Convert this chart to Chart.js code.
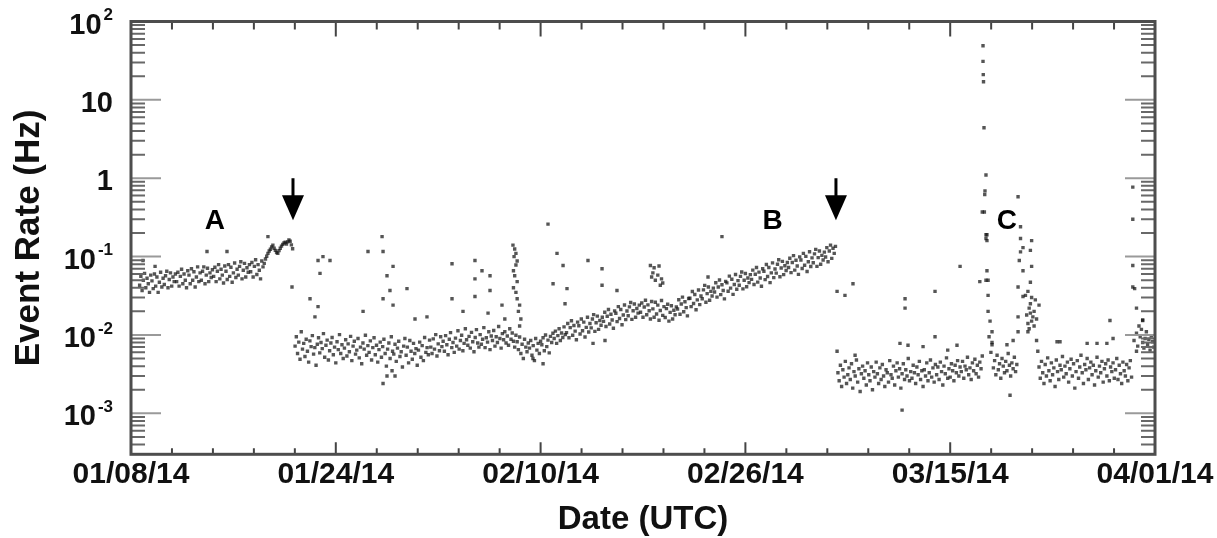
<!DOCTYPE html>
<html>
<head>
<meta charset="utf-8">
<script src="https://cdn.jsdelivr.net/npm/chart.js@4.4.1/dist/chart.umd.min.js"></script>
<style>
	html, body { margin: 0; padding: 0; background: #fff; }
	canvas { display: block; }
</style>
</head>
<body>
<canvas id="rate" width="1217" height="538"></canvas>
<script>
// time is counted in days from 01/08/14 00:00 UTC, rates are in Hz
// regular samples every 0.1 day, each band has its own start day
var sampleStep = 0.1;

var start_jan08 = 0.7;
var rate_jan08 = [
	0.043,0.056,0.037,0.050,0.061,0.040,0.053,0.045,0.035,0.058,
	0.049,0.039,0.060,0.042,0.055,0.035,0.047,0.063,0.041,0.053,
	0.044,0.057,0.065,0.040,0.051,0.062,0.042,0.055,0.048,0.060,
	0.048,0.063,0.042,0.056,0.069,0.045,0.060,0.050,0.040,0.066,
	0.058,0.045,0.070,0.050,0.064,0.041,0.055,0.074,0.048,0.062,
	0.050,0.065,0.074,0.045,0.058,0.071,0.048,0.062,0.054,0.068,
	0.056,0.073,0.048,0.065,0.079,0.052,0.069,0.058,0.046,0.076,
	0.065,0.051,0.079,0.056,0.073,0.047,0.062,0.083,0.054,0.069,
	0.058,0.075,0.086,0.052,0.067,0.082,0.055,0.072,0.063,0.079,
	0.064,0.084,0.055,0.075,0.091,0.059,0.079,0.067,0.052,0.088,
	0.074,0.082,0.093,0.101,0.110,0.118,0.124,0.133,0.140,0.128,
	0.120,0.113,0.110,0.119,0.128,0.136,0.143,0.149,0.153,0.145,
	0.154,0.163,0.157,0.141,0.126
];

var start_jan21 = 13.3;
var rate_jan21 = [
	0.0072,0.0095,0.0058,0.0081,0.0049,0.0110,0.0066,0.0078,0.0053,0.0088,
	0.0062,0.0045,0.0084,0.0071,0.0098,0.0057,0.0069,0.0041,0.0076,0.0092,
	0.0059,0.0080,0.0067,0.0104,0.0052,0.0074,0.0086,0.0048,0.0063,0.0079,
	0.0093,0.0056,0.0070,0.0044,0.0082,0.0065,0.0101,0.0058,0.0075,0.0050,
	0.0068,0.0087,0.0054,0.0077,0.0061,0.0096,0.0047,0.0072,0.0083,0.0057,
	0.0064,0.0090,0.0051,0.0070,0.0043,0.0079,0.0066,0.0099,0.0055,0.0073,
	0.0060,0.0084,0.0048,0.0069,0.0092,0.0056,0.0074,0.0045,0.0065,0.0081,
	0.0052,0.0071,0.0088,0.0058,0.0040,0.0066,0.0079,0.0050,0.0095,0.0062,
	0.0057,0.0076,0.0046,0.0068,0.0083,0.0053,0.0061,0.0039,0.0072,0.0090,
	0.0055,0.0070,0.0044,0.0085,0.0062,0.0049,0.0078,0.0058,0.0067,0.0041,
	0.0064,0.0081,0.0052,0.0073,0.0047,0.0093,0.0060,0.0069,0.0056,0.0086,
	0.0070,0.0058,0.0089,0.0066,0.0101,0.0054,0.0077,0.0063,0.0095,0.0071,
	0.0083,0.0062,0.0098,0.0075,0.0056,0.0088,0.0107,0.0069,0.0080,0.0060,
	0.0091,0.0072,0.0113,0.0066,0.0085,0.0099,0.0063,0.0078,0.0120,0.0087,
	0.0074,0.0096,0.0068,0.0108,0.0082,0.0061,0.0093,0.0117,0.0079,0.0070,
	0.0101,0.0076,0.0088,0.0124,0.0069,0.0092,0.0081,0.0110,0.0065,0.0097,
	0.0085,0.0114,0.0072,0.0095,0.0080,0.0128,0.0090,0.0068,0.0104,0.0087,
	0.0110,0.0079,0.0097,0.0074,0.0120,0.0088,0.0106,0.0083,0.0070,0.0099,
	0.0082,0.0065,0.0094,0.0058,0.0076,0.0050,0.0088,0.0070,0.0061,0.0079,
	0.0068,0.0085,0.0055,0.0073,0.0047,0.0090,0.0064,0.0078,0.0058,0.0083,
	0.0075,0.0092,0.0063,0.0100,0.0071,0.0086,0.0059,0.0096,0.0080,0.0105,
	0.0090,0.0112,0.0078,0.0098,0.0120,0.0085,0.0106,0.0093,0.0127,0.0101
];

var start_feb12 = 35.3;
var rate_feb12 = [
	0.0107,0.0140,0.0092,0.0124,0.0152,0.0099,0.0132,0.0112,0.0087,0.0146,
	0.0131,0.0103,0.0160,0.0113,0.0146,0.0094,0.0125,0.0168,0.0109,0.0140,
	0.0123,0.0160,0.0182,0.0111,0.0143,0.0174,0.0118,0.0153,0.0133,0.0168,
	0.0149,0.0195,0.0128,0.0173,0.0211,0.0138,0.0184,0.0155,0.0122,0.0203,
	0.0189,0.0148,0.0230,0.0162,0.0211,0.0135,0.0180,0.0241,0.0157,0.0202,
	0.0176,0.0228,0.0260,0.0158,0.0204,0.0248,0.0168,0.0218,0.0190,0.0240,
	0.0195,0.0256,0.0168,0.0227,0.0277,0.0181,0.0242,0.0204,0.0160,0.0267,
	0.0215,0.0168,0.0262,0.0185,0.0240,0.0154,0.0205,0.0275,0.0178,0.0230,
	0.0167,0.0217,0.0247,0.0150,0.0194,0.0236,0.0160,0.0207,0.0181,0.0228,
	0.0214,0.0281,0.0184,0.0248,0.0304,0.0198,0.0265,0.0223,0.0175,0.0292,
	0.0294,0.0230,0.0358,0.0252,0.0328,0.0210,0.0280,0.0375,0.0244,0.0314,
	0.0290,0.0376,0.0429,0.0261,0.0337,0.0409,0.0277,0.0360,0.0314,0.0396,
	0.0353,0.0464,0.0304,0.0410,0.0502,0.0327,0.0437,0.0369,0.0289,0.0483,
	0.0462,0.0361,0.0563,0.0396,0.0515,0.0330,0.0440,0.0590,0.0383,0.0493,
	0.0431,0.0559,0.0637,0.0387,0.0500,0.0608,0.0412,0.0534,0.0466,0.0588,
	0.0512,0.0671,0.0440,0.0594,0.0726,0.0473,0.0633,0.0534,0.0418,0.0699,
	0.0651,0.0508,0.0794,0.0558,0.0725,0.0465,0.0620,0.0831,0.0539,0.0694,
	0.0616,0.0798,0.0910,0.0553,0.0714,0.0868,0.0588,0.0763,0.0665,0.0840,
	0.0725,0.0952,0.0624,0.0842,0.1030,0.0671,0.0897,0.0757,0.0593,0.0991,
	0.0903,0.0705,0.1100,0.0774,0.1006,0.0645,0.0860,0.1152,0.0748,0.0963,
	0.0836,0.1083,0.1235,0.0751,0.0969,0.1178,0.0798,0.1036,0.0903,0.1140,
	0.0990,0.1300,0.0860,0.1180,0.1400,0.0950,0.1280,0.1100,0.1350
];

var start_mar06 = 57.3;
var rate_mar06 = [
	0.0033,0.0026,0.0041,0.0022,0.0036,0.0029,0.0046,0.0024,0.0031,0.0038,
	0.0027,0.0043,0.0021,0.0034,0.0030,0.0048,0.0025,0.0037,0.0019,0.0032,
	0.0040,0.0028,0.0035,0.0023,0.0044,0.0031,0.0026,0.0039,0.0020,0.0034,
	0.0029,0.0045,0.0032,0.0024,0.0038,0.0027,0.0042,0.0030,0.0022,0.0036,
	0.0033,0.0025,0.0047,0.0031,0.0028,0.0040,0.0023,0.0035,0.0044,0.0029,
	0.0037,0.0021,0.0032,0.0043,0.0027,0.0036,0.0030,0.0050,0.0026,0.0034,
	0.0028,0.0041,0.0033,0.0024,0.0039,0.0031,0.0046,0.0027,0.0035,0.0022,
	0.0036,0.0030,0.0044,0.0026,0.0033,0.0048,0.0029,0.0038,0.0025,0.0042,
	0.0031,0.0039,0.0027,0.0045,0.0034,0.0023,0.0040,0.0032,0.0051,0.0028,
	0.0037,0.0029,0.0043,0.0035,0.0026,0.0041,0.0033,0.0047,0.0030,0.0039,
	0.0034,0.0046,0.0028,0.0040,0.0036,0.0052,0.0031,0.0038,0.0027,0.0044,
	0.0035,0.0049,0.0032,0.0041,0.0029,0.0045,0.0037,0.0054
];

var start_mar18 = 69.9;
var rate_mar18 = [
	0.0038,0.0047,0.0031,0.0055,0.0036,0.0043,0.0028,0.0050,0.0040,0.0033,
	0.0046,0.0035,0.0058,0.0041,0.0030,0.0044,0.0037,0.0052,0.0034,0.0042
];

var start_mar22 = 73.6;
var rate_mar22 = [
	0.0039,0.0028,0.0046,0.0033,0.0024,0.0042,0.0030,0.0051,0.0035,0.0026,
	0.0044,0.0031,0.0038,0.0022,0.0048,0.0034,0.0027,0.0041,0.0036,0.0053,
	0.0029,0.0040,0.0032,0.0045,0.0025,0.0037,0.0049,0.0030,0.0043,0.0021,
	0.0034,0.0047,0.0028,0.0039,0.0055,0.0033,0.0024,0.0042,0.0036,0.0050,
	0.0027,0.0038,0.0045,0.0031,0.0041,0.0023,0.0035,0.0052,0.0029,0.0040,
	0.0033,0.0046,0.0025,0.0037,0.0043,0.0030,0.0048,0.0026,0.0039,0.0034,
	0.0044,0.0028,0.0036,0.0050,0.0027,0.0041,0.0032,0.0024,0.0045,0.0035,
	0.0030,0.0042,0.0026,0.0038,0.0047,0.0029
];

// [day, rate] pairs that do not follow a regular band
var end_of_march = [
	[81.3,0.0085],[81.5,0.0105],[81.6,0.0072],[81.8,0.0095],[81.9,0.0118],[82.0,0.0080],
	[82.1,0.0068],[82.2,0.0090],[82.3,0.0110],[82.4,0.0075],[82.5,0.0088],[82.6,0.0064],
	[82.7,0.0097],[82.8,0.0082],[82.9,0.0070],[81.7,0.0130],[82.0,0.0155],[81.5,0.0062]
];

var burst_c1 = [
	[69.06,49],[69.06,31],[69.08,21],[69.10,17],[69.14,4.4],[69.30,1.1],[69.22,0.69],
	[69.20,0.62],[69.17,0.37],[69.30,0.19],[69.30,0.17],[69.38,0.19],[69.38,0.16],
	[69.38,0.066],[69.30,0.05],[69.47,0.05],[69.47,0.032],[69.47,0.020],[69.63,0.015],
	[69.79,0.011],[69.79,0.008],[69.79,0.0075],[69.55,0.0095],[69.70,0.006],[69.0,0.37]
];

var burst_c2 = [
	[71.9,0.58],[72.1,0.24],[72.1,0.17],[73.0,0.16],[72.3,0.13],[72.1,0.115],[72.9,0.12],
	[72.0,0.089],[72.3,0.066],[73.0,0.075],[71.9,0.041],[72.9,0.047],[72.3,0.031],
	[72.7,0.036],[73.0,0.030],[73.6,0.024],[72.8,0.022],[72.9,0.019],[73.1,0.017],
	[73.4,0.016],[72.7,0.014],[73.2,0.013],[72.8,0.012],[71.9,0.017],[72.7,0.011],
	[71.9,0.011],[71.5,0.0085],[73.4,0.0085],[73.5,0.0062],[71.0,0.0075],[72.9,0.025],
	[73.2,0.020],[73.0,0.015],[72.6,0.018],[72.5,0.032],[73.3,0.028],[71.25,0.0017]
];

var outliers = [
	[0.97,0.089],[1.95,0.075],[6.16,0.116],[7.78,0.116],[11.1,0.18],
	[13.05,0.041],[15.16,0.089],[15.56,0.10],[16.13,0.089],[15.32,0.061],[14.51,0.029],
	[15.16,0.023],[14.91,0.017],[20.35,0.18],[19.21,0.116],[20.43,0.116],[21.24,0.075],
	[20.75,0.057],[20.99,0.037],[22.37,0.039],[20.43,0.029],[21.24,0.024],[18.81,0.020],
	[23.02,0.016],[23.99,0.017],[20.75,0.0030],[21.40,0.0030],[20.43,0.0024],[21.16,0.0035],
	[26.02,0.081],[27.88,0.089],[28.45,0.066],[27.88,0.052],[29.10,0.057],[29.10,0.037],
	[26.02,0.029],[27.88,0.031],[30.07,0.024],[26.91,0.020],[28.94,0.019],[30.3,0.016],
	[30.96,0.14],[31.1,0.125],[31.2,0.11],[31.05,0.10],[31.3,0.088],[31.2,0.078],
	[31.0,0.066],[31.1,0.057],[31.3,0.048],[31.0,0.040],[31.2,0.035],[31.3,0.029],
	[31.5,0.024],[31.4,0.020],[31.6,0.016],[31.5,0.013],
	[33.80,0.26],[34.53,0.11],[35.02,0.077],[34.21,0.045],[35.34,0.039],[35.18,0.025],
	[37.04,0.089],[38.18,0.070],[38.18,0.043],[39.39,0.037],
	[42.1,0.077],[42.4,0.072],[42.8,0.076],[42.3,0.062],[42.7,0.058],[43.0,0.052],
	[42.5,0.050],[43.1,0.046],[42.9,0.043],[42.2,0.055],[46.77,0.055],[47.9,0.18],
	[32.58,0.0050],[33.4,0.0043],[37.45,0.0078],[38.42,0.0085],
	[57.23,0.036],[57.87,0.032],[58.52,0.045],[62.74,0.029],[62.74,0.022],[65.17,0.036],
	[65.17,0.0095],[57.23,0.0062],[58.69,0.0055],[62.5,0.0011],[62.33,0.0078],
	[62.98,0.0074],[64.2,0.0071],[66.2,0.0064],[66.95,0.0074],[68.8,0.048],[67.2,0.075],
	[75.06,0.0082],[75.3,0.0082],[77.5,0.0078],[78.3,0.0078],[79.1,0.0078],[79.6,0.0090],
	[79.35,0.0153],[81.2,0.077],[81.2,0.041],[81.2,0.30],[81.2,0.77],[81.5,0.022],
	[82.0,0.0153],[81.35,0.039]
];

// axes
var xMin = 0;
var xMax = 83;
var xTickDays = [0, 16.6, 33.2, 49.8, 66.4, 83];
var xTickLabels = ['01/08/14', '01/24/14', '02/10/14', '02/26/14', '03/15/14', '04/01/14'];
var yMin = 3.1e-4;
var yMax = 100;
var yTickValues = [100, 10, 1, 0.1, 0.01, 0.001];
var yTickBase = ['10', '10', '1', '10', '10', '10'];
var yTickExp = ['2', '', '', '-1', '-2', '-3'];

// annotations
var markLabels = ['A', 'B', 'C'];
var markDays = [6.8, 52.0, 71.0];
var markRate = 0.29;
var arrowDays = [13.13, 57.14];
var arrowFrom = 1.0;
var arrowTo = 0.29;

var FONT = '"Liberation Sans", Arial, Helvetica, sans-serif';

// build chart points from a regular band
var band_points = function(start, rates) {
	var pts = [];
	for (var i = 0; i < rates.length; i++) {
		pts.push({x: start + i * sampleStep, y: rates[i]});
	}
	return pts;
};

var pair_points = function(pairs) {
	return pairs.map(function(p) { return {x: p[0], y: p[1]}; });
};

var dot_set = function(pts) {
	return {
		data: pts,
		pointStyle: 'rect',
		pointRadius: 2.4,
		pointBorderWidth: 0,
		pointBackgroundColor: 'rgba(20,20,20,0.72)',
		showLine: false
	};
};

// frame, inward ticks, tick labels and annotations
var frame_plugin = {
	id: 'frame',
	afterDatasetsDraw: function(chart) {
		var ctx = chart.ctx;
		var a = chart.chartArea;
		var xs = chart.scales.x;
		var ys = chart.scales.y;
		ctx.save();

		// y ticks: decades and 2..9 minors, left and right
		ctx.lineWidth = 2;
		for (var k = -4; k <= 2; k++) {
			for (var m = 1; m <= 9; m++) {
				var v = m * Math.pow(10, k);
				if (v < yMin || v > yMax) continue;
				var py = ys.getPixelForValue(v);
				var len = m === 1 ? 30 : 14;
				ctx.strokeStyle = m === 1 ? '#9a9a9a' : '#686868';
				ctx.beginPath();
				ctx.moveTo(a.left, py); ctx.lineTo(a.left + len, py);
				ctx.moveTo(a.right, py); ctx.lineTo(a.right - len, py);
				ctx.stroke();
			}
		}

		// x ticks: 4 minors between labelled ticks, top and bottom
		var minor = (xTickDays[1] - xTickDays[0]) / 5;
		ctx.strokeStyle = '#444';
		for (var i = 0; i <= 25; i++) {
			var px = xs.getPixelForValue(xMin + i * minor);
			var major = i % 5 === 0;
			ctx.beginPath();
			ctx.moveTo(px, a.top); ctx.lineTo(px, a.top + (major ? 15 : 8));
			ctx.moveTo(px, a.bottom); ctx.lineTo(px, a.bottom - (major ? 12 : 6));
			ctx.stroke();
		}

		// frame
		ctx.lineWidth = 3;
		ctx.strokeStyle = '#4d4d4d';
		ctx.strokeRect(a.left, a.top, a.right - a.left, a.bottom - a.top);

		// x tick labels
		ctx.fillStyle = '#111';
		ctx.font = 'bold 30px ' + FONT;
		ctx.textAlign = 'center';
		ctx.textBaseline = 'middle';
		for (var j = 0; j < xTickDays.length; j++) {
			ctx.fillText(xTickLabels[j], xs.getPixelForValue(xTickDays[j]), 475);
		}

		// y tick labels with superscript exponents
		ctx.textAlign = 'right';
		for (var n = 0; n < yTickValues.length; n++) {
			var ty = ys.getPixelForValue(yTickValues[n]);
			var right = 113;
			if (yTickExp[n]) {
				ctx.font = 'bold 17px ' + FONT;
				ctx.fillText(yTickExp[n], right, ty - 6);
				right -= ctx.measureText(yTickExp[n]).width + 2;
			}
			ctx.font = 'bold 29px ' + FONT;
			ctx.fillText(yTickBase[n], right, ty + 4);
		}

		// arrows
		ctx.fillStyle = '#000';
		ctx.strokeStyle = '#000';
		ctx.lineWidth = 3;
		for (var r = 0; r < arrowDays.length; r++) {
			var ax = xs.getPixelForValue(arrowDays[r]);
			var top = ys.getPixelForValue(arrowFrom);
			var tip = ys.getPixelForValue(arrowTo);
			ctx.beginPath();
			ctx.moveTo(ax, top); ctx.lineTo(ax, tip - 22);
			ctx.stroke();
			ctx.beginPath();
			ctx.moveTo(ax - 11, tip - 25);
			ctx.lineTo(ax + 11, tip - 25);
			ctx.lineTo(ax, tip);
			ctx.closePath();
			ctx.fill();
		}

		// period labels
		ctx.font = 'bold 28px ' + FONT;
		ctx.textAlign = 'center';
		for (var s = 0; s < markLabels.length; s++) {
			ctx.fillText(markLabels[s], xs.getPixelForValue(markDays[s]), ys.getPixelForValue(markRate) + 1);
		}
		ctx.restore();
	}
};

var chart = new Chart(document.getElementById('rate'), {
	type: 'scatter',
	data: {
		datasets: [
			dot_set(band_points(start_jan08, rate_jan08)),
			dot_set(band_points(start_jan21, rate_jan21)),
			dot_set(band_points(start_feb12, rate_feb12)),
			dot_set(band_points(start_mar06, rate_mar06)),
			dot_set(band_points(start_mar18, rate_mar18)),
			dot_set(band_points(start_mar22, rate_mar22)),
			dot_set(pair_points(end_of_march)),
			dot_set(pair_points(burst_c1)),
			dot_set(pair_points(burst_c2)),
			dot_set(pair_points(outliers))
		]
	},
	options: {
		responsive: false,
		animation: false,
		events: [],
		layout: { padding: { top: 21.5, right: 62, left: 0, bottom: 0 } },
		plugins: {
			legend: { display: false },
			tooltip: { enabled: false }
		},
		scales: {
			x: {
				type: 'linear',
				min: xMin,
				max: xMax,
				grid: { display: false, drawTicks: false },
				border: { display: false },
				ticks: { display: false },
				title: {
					display: true,
					text: 'Date (UTC)',
					color: '#111',
					font: { family: FONT, size: 33, weight: 'bold', lineHeight: 1 },
					padding: { top: 0, bottom: 2 }
				},
				afterFit: function(scale) { scale.height = 83.7; }
			},
			y: {
				type: 'logarithmic',
				min: yMin,
				max: yMax,
				grid: { display: false, drawTicks: false },
				border: { display: false },
				ticks: { display: false },
				title: {
					display: true,
					text: 'Event Rate (Hz)',
					color: '#111',
					font: { family: FONT, size: 35, weight: 'bold', lineHeight: 1 },
					padding: { top: 12, bottom: 0 }
				},
				afterFit: function(scale) { scale.width = 131; }
			}
		}
	},
	plugins: [frame_plugin]
});
</script>
</body>
</html>
